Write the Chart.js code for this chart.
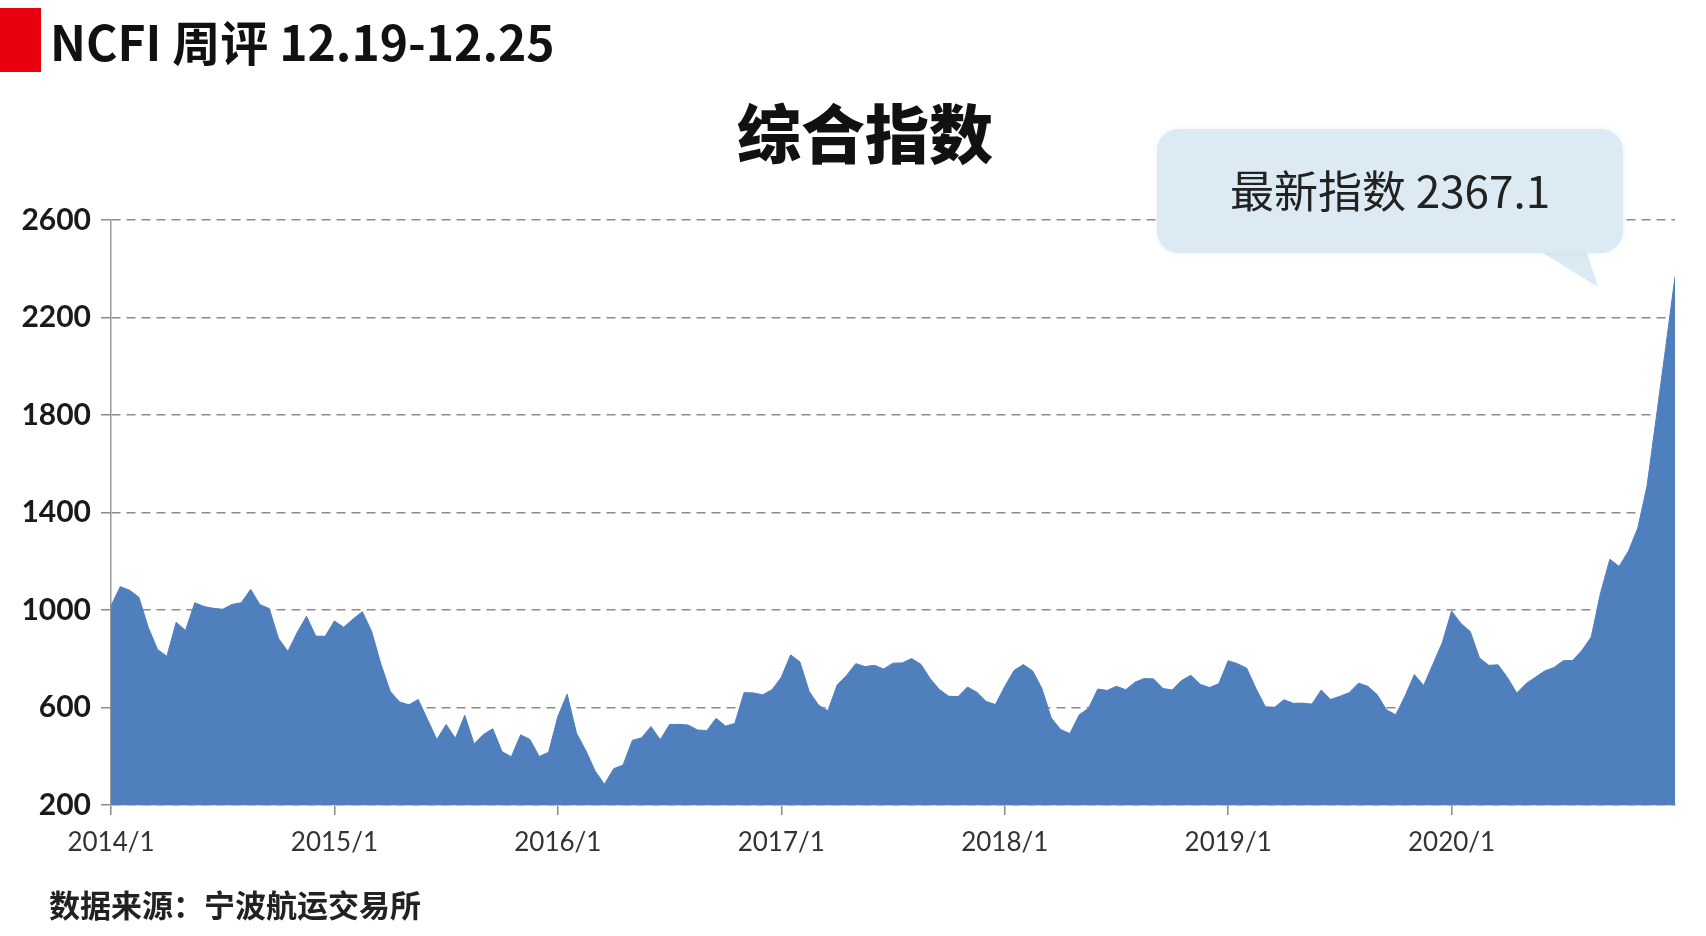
<!DOCTYPE html>
<html>
<head>
<meta charset="utf-8">
<script src="https://cdn.jsdelivr.net/npm/chart.js@4"></script>
<style>
  html, body { margin: 0; padding: 0; background: #fff; }
  #page { position: relative; width: 1706px; height: 936px; overflow: hidden; }
  #chart-box { position: absolute; left: 0; top: 0; width: 1706px; height: 936px; }
  .cjk { font-family: "Noto Sans CJK SC", "Noto Sans", sans-serif; position: absolute; white-space: nowrap; line-height: 1; }
  #red-mark { position: absolute; left: 0; top: 8px; width: 41px; height: 64px; background: #e8000f; }
  #header { left: 50px; top: 16px; font-size: 48px; font-weight: 700; color: #111; }
  #title { left: 665px; width: 400px; top: 98px; text-align: center; font-size: 64px; font-weight: 900; color: #111; }
  #bubble { position: absolute; left: 1157px; top: 129px; width: 466px; height: 124px; border-radius: 22px; background: #dbeaf3; box-shadow: 0 0 5px rgba(120,150,170,0.15); }
  #bubble-text { left: 1157px; width: 466px; top: 167px; text-align: center; font-size: 44px; font-weight: 400; color: #222; }
  #tail { position: absolute; left: 0; top: 0; width: 1706px; height: 936px; pointer-events: none; }
  #source { left: 49px; top: 888px; font-size: 31px; font-weight: 700; color: #222; }
</style>
</head>
<body>
<div id="page">
  <div id="chart-box"><canvas id="ncfi-chart"></canvas></div>
  <div id="red-mark"></div>
  <div id="header" class="cjk">NCFI 周评 12.19-12.25</div>
  <div id="title" class="cjk">综合指数</div>
  <svg id="tail"><polygon points="1538,250 1586,250 1598,287" fill="#dbeaf3"></polygon></svg>
  <div id="bubble"></div>
  <div id="bubble-text" class="cjk">最新指数 2367.1</div>
  <div id="source" class="cjk">数据来源：宁波航运交易所</div>
</div>
<script>
// Semi-monthly readings of the NCFI composite index, one array per year
const samplesPerYear = 24;
const ncfi2014 = [1017, 1096, 1081, 1052, 929, 838, 810, 950, 916, 1030, 1014, 1007, 1003, 1023, 1030, 1085, 1022, 1006, 883, 830, 908, 974, 893, 892];
const ncfi2015 = [955, 929, 963, 993, 912, 777, 666, 623, 611, 633, 551, 469, 530, 474, 568, 451, 489, 513, 419, 398, 488, 469, 399, 416];
const ncfi2016 = [563, 655, 495, 424, 340, 285, 349, 364, 465, 476, 522, 468, 530, 531, 528, 508, 505, 556, 524, 534, 661, 660, 652, 673];
const ncfi2017 = [724, 816, 787, 666, 610, 587, 692, 731, 780, 768, 773, 758, 782, 783, 801, 777, 718, 673, 646, 645, 684, 663, 625, 612];
const ncfi2018 = [686, 752, 776, 750, 678, 557, 510, 493, 570, 597, 676, 670, 687, 673, 704, 719, 717, 678, 672, 711, 732, 695, 682, 698];
const ncfi2019 = [792, 780, 761, 677, 603, 601, 632, 617, 618, 614, 672, 633, 646, 661, 700, 687, 653, 591, 570, 647, 735, 690, 778, 866];
const ncfi2020 = [996, 945, 912, 803, 773, 775, 723, 659, 698, 724, 750, 764, 792, 793, 834, 889, 1070, 1208, 1179, 1242, 1336, 1510, 1793, 2077, 2367.1];

const years = [2014, 2015, 2016, 2017, 2018, 2019, 2020];
const yearly = [ncfi2014, ncfi2015, ncfi2016, ncfi2017, ncfi2018, ncfi2019, ncfi2020];
const yTicks = [200, 600, 1000, 1400, 1800, 2200, 2600];

// Build {x, y} points, x in decimal years
function buildSeries() {
  const points = [];
  years.forEach((year, k) => {
    yearly[k].forEach((v, i) => {
      points.push({ x: year + i / samplesPerYear, y: v });
    });
  });
  return points;
}

Chart.defaults.font.family = "Lato, 'Noto Sans', sans-serif";

function drawChart() {
  const ctx = document.getElementById("ncfi-chart").getContext("2d");
  new Chart(ctx, {
    type: "line",
    data: {
      datasets: [
        {
          label: "综合指数",
          data: buildSeries(),
          fill: "start",
          backgroundColor: "#4f80bd",
          borderColor: "#4f80bd",
          borderWidth: 1,
          pointRadius: 0,
          tension: 0,
        },
      ],
    },
    options: {
      responsive: true,
      maintainAspectRatio: false,
      animation: false,
      layout: { padding: { left: 0, top: 220, right: 31, bottom: 0 } },
      plugins: {
        legend: { display: false },
        tooltip: { enabled: false },
      },
      scales: {
        x: {
          type: "linear",
          min: years[0],
          max: years[years.length - 1] + 1,
          afterBuildTicks: (scale) => {
            scale.ticks = years.map((y) => ({ value: y }));
          },
          afterFit: (scale) => {
            scale.height = 131;
          },
          ticks: {
            callback: (value) => `${value}/1`,
            font: { size: 26 },
            color: "#333",
            padding: 12,
            maxRotation: 0,
            autoSkip: false,
          },
          grid: {
            drawOnChartArea: false,
            drawTicks: true,
            tickLength: 10,
            color: "#8a8a8a",
            lineWidth: 1.5,
          },
          border: { display: true, color: "#9fb6cf", width: 1.5 },
        },
        y: {
          min: yTicks[0],
          max: yTicks[yTicks.length - 1],
          afterBuildTicks: (scale) => {
            scale.ticks = yTicks.map((v) => ({ value: v }));
          },
          afterFit: (scale) => {
            scale.width = 111;
          },
          ticks: {
            callback: (value) => String(value),
            font: { size: 30, weight: "bold" },
            color: "#1a1a1a",
            padding: 10,
          },
          grid: {
            color: "#8c8c8c",
            lineWidth: 1.5,
            tickLength: 10,
            tickBorderDash: [9, 6],
          },
          border: { display: true, color: "#9a9a9a", width: 1.5, dash: [9, 6] },
        },
      },
    },
  });
}

document.addEventListener("DOMContentLoaded", drawChart);
</script>
</body>
</html>
